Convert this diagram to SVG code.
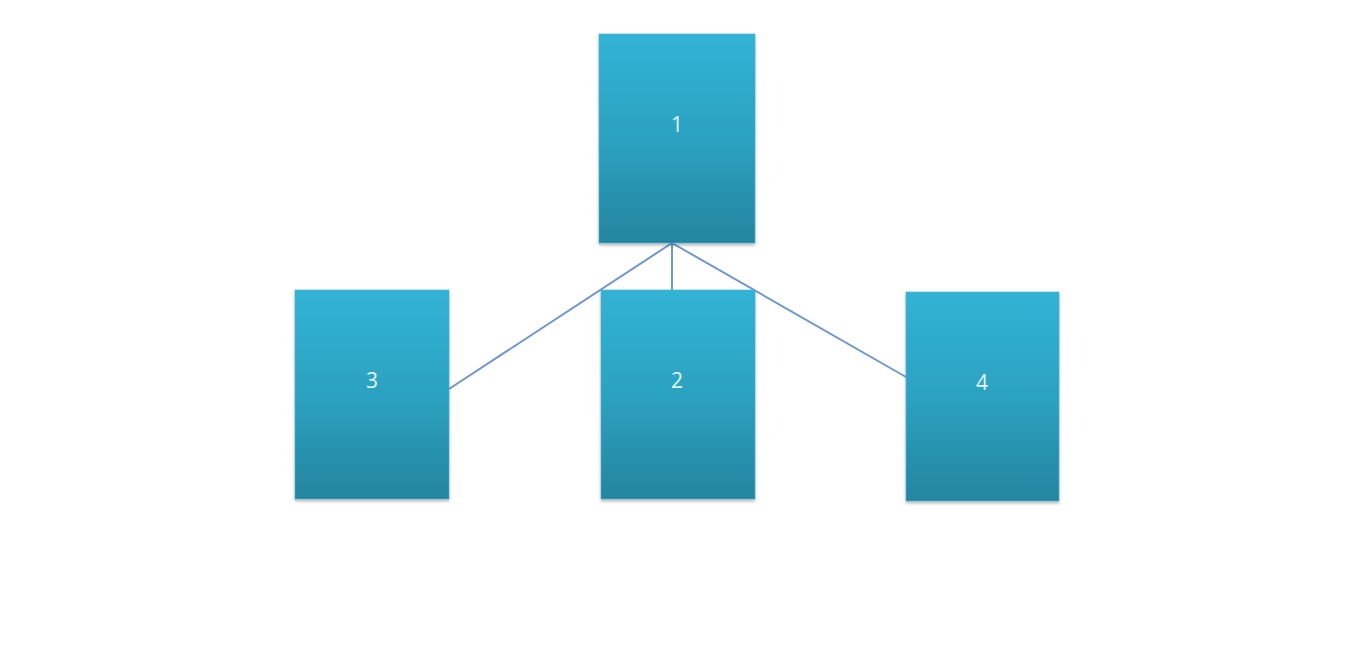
<svg xmlns="http://www.w3.org/2000/svg" width="1372" height="670" viewBox="0 0 1372 670">
<style>
.box{fill:url(#g);stroke:#4aaed0;stroke-width:0.6;filter:url(#sh)}
.lbl{font-family:"Open Sans","Liberation Sans",sans-serif;font-size:21px;fill:#e6f4f8;text-anchor:middle;dominant-baseline:central}
.conn{stroke:#6f97cc;stroke-width:2;fill:none}
</style>
<defs>
<linearGradient id="g" x1="0" y1="0" x2="0" y2="1">
<stop offset="0" stop-color="#31b3d5"/>
<stop offset="0.5" stop-color="#2ca2c1"/>
<stop offset="1" stop-color="#24859f"/>
</linearGradient>
<filter id="sh" x="-10%" y="-10%" width="120%" height="120%">
<feDropShadow dx="0" dy="2" stdDeviation="1.5" flood-color="#000" flood-opacity="0.3"/>
</filter>
</defs>
<rect width="1372" height="670" fill="#ffffff"/>
<g id="connectors">
<line class="conn" x1="672" y1="243" x2="449" y2="389"/>
<line class="conn" x1="672" y1="243" x2="672" y2="290"/>
<line class="conn" x1="672" y1="243" x2="906" y2="377"/>
</g>
<g id="node1">
<rect class="box" x="599" y="34" width="156" height="209"/>
<text class="lbl" x="677" y="124">1</text>
</g>
<g id="node2">
<rect class="box" x="601" y="290" width="154" height="209"/>
<text class="lbl" x="677" y="380">2</text>
</g>
<g id="node3">
<rect class="box" x="295" y="290" width="154" height="209"/>
<text class="lbl" x="372" y="380">3</text>
</g>
<g id="node4">
<rect class="box" x="906" y="292" width="153" height="209"/>
<text class="lbl" x="982" y="382">4</text>
</g>
</svg>
